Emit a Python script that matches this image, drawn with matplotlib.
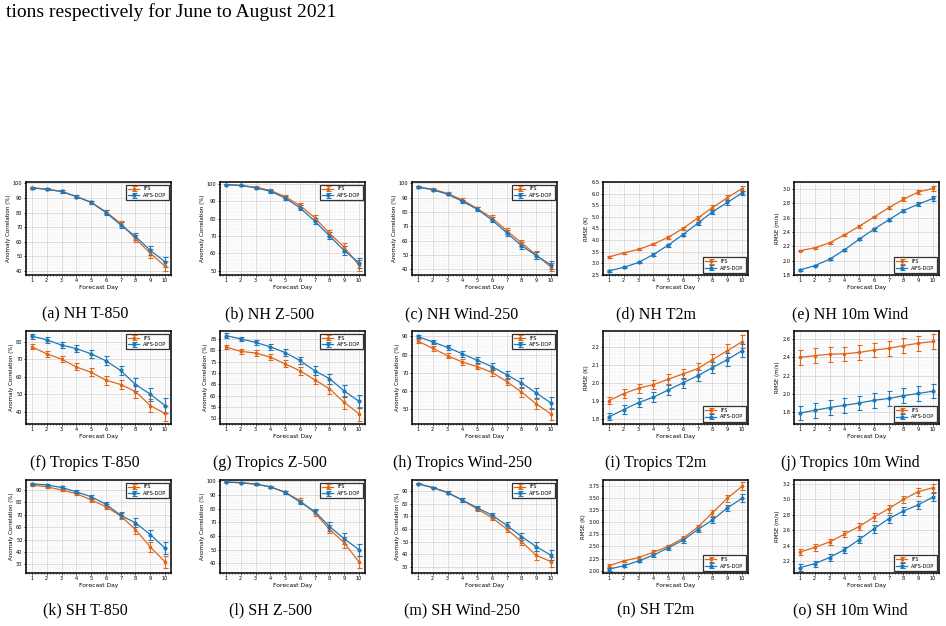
import numpy as np
import matplotlib
matplotlib.use("Agg")
import matplotlib.pyplot as plt
from matplotlib.ticker import AutoMinorLocator

# --- Data
days = [1, 2, 3, 4, 5, 6, 7, 8, 9, 10]

# NH
nh_t850_ifs = [97, 96, 94.5, 91, 87, 80.5, 72.5, 62, 52, 43]
nh_t850_aifs = [97, 96, 94.5, 91, 87, 80, 71.5, 63.5, 54, 46]
nh_t850_err = [0.5, 0.6, 0.8, 1.0, 1.0, 1.5, 2.0, 2.5, 3.0, 3.5]

nh_z500_ifs = [99.5, 99, 98, 96.2, 92.6, 87.5, 80.5, 71.5, 63.5, 53]
nh_z500_aifs = [99.5, 99, 97.7, 95.7, 91.8, 86.2, 78.5, 70, 61.5, 54.5]
nh_z500_err = [0.2, 0.3, 0.5, 0.8, 1.0, 1.3, 1.7, 2.0, 2.4, 3.0]

nh_w250_ifs = [97.5, 96, 93, 88.5, 82.5, 76, 67, 58.5, 50, 41.5]
nh_w250_aifs = [97.5, 95.5, 92.5, 87.5, 82, 74.5, 65.5, 56.5, 49.5, 43]
nh_w250_err = [0.4, 0.5, 0.8, 1.0, 1.3, 1.7, 2.0, 2.3, 2.5, 2.7]

nh_t2m_ifs = [3.28, 3.45, 3.6, 3.83, 4.12, 4.5, 4.95, 5.4, 5.82, 6.22]
nh_t2m_aifs = [2.68, 2.83, 3.04, 3.38, 3.78, 4.24, 4.72, 5.22, 5.62, 6.03]
nh_t2m_err = [0.03, 0.03, 0.04, 0.05, 0.06, 0.07, 0.08, 0.09, 0.1, 0.1]

nh_w10_ifs = [2.14, 2.18, 2.25, 2.36, 2.48, 2.61, 2.74, 2.86, 2.96, 3.01]
nh_w10_aifs = [1.87, 1.93, 2.02, 2.15, 2.30, 2.44, 2.57, 2.70, 2.79, 2.87]
nh_w10_err = [0.01, 0.01, 0.012, 0.015, 0.017, 0.02, 0.022, 0.025, 0.028, 0.03]

# Tropics
tr_t850_ifs = [77, 73, 70, 65.5, 62.5, 58, 55.5, 51.5, 43.5, 39]
tr_t850_aifs = [83, 81, 78, 76, 73, 69, 63.5, 55.5, 50, 43.5]
tr_t850_err = [1.5, 1.6, 1.8, 2.0, 2.2, 2.5, 2.7, 3.5, 3.8, 4.2]

tr_z500_ifs = [81.5, 79.5, 78.8, 77, 74, 71, 67, 63, 57, 52]
tr_z500_aifs = [86.5, 85, 83.5, 81.5, 79, 75.5, 71, 67.5, 62, 57.5]
tr_z500_err = [1.0, 1.0, 1.2, 1.3, 1.5, 1.7, 1.9, 2.2, 2.7, 3.0]

tr_w250_ifs = [87.5, 83.5, 79.5, 76, 73.5, 70.3, 65.3, 59.5, 53, 47.5]
tr_w250_aifs = [90, 87, 84, 80.5, 77, 73.5, 69, 64.5, 59, 53.5]
tr_w250_err = [1.0, 1.3, 1.4, 1.6, 1.6, 1.8, 2.1, 2.7, 2.8, 3.2]

tr_t2m_ifs = [1.90, 1.94, 1.97, 1.99, 2.02, 2.05, 2.08, 2.13, 2.18, 2.23]
tr_t2m_aifs = [1.81, 1.85, 1.89, 1.92, 1.96, 2.00, 2.04, 2.085, 2.13, 2.18]
tr_t2m_err = [0.02, 0.025, 0.025, 0.027, 0.028, 0.03, 0.03, 0.03, 0.035, 0.035]

tr_w10_ifs = [2.40, 2.42, 2.435, 2.44, 2.455, 2.48, 2.50, 2.53, 2.555, 2.575]
tr_w10_aifs = [1.79, 1.82, 1.85, 1.875, 1.90, 1.93, 1.95, 1.98, 2.005, 2.03]
tr_w10_err = [0.08, 0.08, 0.08, 0.08, 0.08, 0.08, 0.08, 0.08, 0.08, 0.08]

# SH
sh_t850_ifs = [94, 92.5, 90, 87, 82, 76.5, 69, 58, 44, 32]
sh_t850_aifs = [95, 94, 92, 88.5, 84.5, 78.5, 69.5, 63.5, 54, 43]
sh_t850_err = [0.8, 0.8, 1.0, 1.2, 1.5, 2.0, 2.5, 3.5, 4.0, 5.0]

sh_z500_ifs = [99.5, 99, 98, 96, 92, 86, 77, 65, 55, 41]
sh_z500_aifs = [99.5, 99, 98, 96, 92, 85, 78, 67, 58, 50]
sh_z500_err = [0.2, 0.3, 0.5, 0.8, 1.0, 1.5, 2.0, 3.0, 4.0, 4.5]

sh_w250_ifs = [96, 93, 89, 83, 76, 69, 60, 50, 39, 34]
sh_w250_aifs = [96, 93, 89, 83, 77, 71, 63, 54, 46, 39]
sh_w250_err = [0.5, 0.7, 1.0, 1.3, 1.6, 2.0, 2.5, 3.0, 3.5, 4.0]

sh_t2m_ifs = [2.1, 2.2, 2.27, 2.38, 2.5, 2.67, 2.9, 3.2, 3.5, 3.75]
sh_t2m_aifs = [2.03, 2.1, 2.2, 2.32, 2.47, 2.63, 2.85, 3.05, 3.3, 3.5]
sh_t2m_err = [0.03, 0.03, 0.03, 0.04, 0.04, 0.05, 0.05, 0.06, 0.07, 0.08]

sh_w10_ifs = [2.32, 2.38, 2.45, 2.55, 2.65, 2.77, 2.88, 3.0, 3.1, 3.15]
sh_w10_aifs = [2.12, 2.17, 2.25, 2.35, 2.48, 2.62, 2.75, 2.85, 2.93, 3.03]
sh_w10_err = [0.04, 0.04, 0.04, 0.04, 0.045, 0.05, 0.05, 0.05, 0.05, 0.05]

captions = [
    "(a) NH T-850", "(b) NH Z-500", "(c) NH Wind-250", "(d) NH T2m", "(e) NH 10m Wind",
    "(f) Tropics T-850", "(g) Tropics Z-500", "(h) Tropics Wind-250", "(i) Tropics T2m", "(j) Tropics 10m Wind",
    "(k) SH T-850", "(l) SH Z-500", "(m) SH Wind-250", "(n) SH T2m", "(o) SH 10m Wind",
]

ACC = "Anomaly Correlation (%)"
panels = [
    (nh_t850_ifs, nh_t850_aifs, nh_t850_err, ACC, (37, 101), np.arange(40, 101, 10), "upper right"),
    (nh_z500_ifs, nh_z500_aifs, nh_z500_err, ACC, (47.5, 101), np.arange(50, 101, 10), "upper right"),
    (nh_w250_ifs, nh_w250_aifs, nh_w250_err, ACC, (36, 101), np.arange(40, 101, 10), "upper right"),
    (nh_t2m_ifs, nh_t2m_aifs, nh_t2m_err, "RMSE (K)", (2.5, 6.5), np.arange(2.5, 6.51, 0.5), "lower right"),
    (nh_w10_ifs, nh_w10_aifs, nh_w10_err, "RMSE (m/s)", (1.8, 3.1), np.arange(1.8, 3.01, 0.2), "lower right"),
    (tr_t850_ifs, tr_t850_aifs, tr_t850_err, ACC, (33, 86), np.arange(40, 81, 10), "upper right"),
    (tr_z500_ifs, tr_z500_aifs, tr_z500_err, ACC, (47.5, 88.5), np.arange(50, 86, 5), "upper right"),
    (tr_w250_ifs, tr_w250_aifs, tr_w250_err, ACC, (42, 93), np.arange(50, 91, 10), "upper right"),
    (tr_t2m_ifs, tr_t2m_aifs, tr_t2m_err, "RMSE (K)", (1.77, 2.29), np.arange(1.8, 2.21, 0.1), "lower right"),
    (tr_w10_ifs, tr_w10_aifs, tr_w10_err, "RMSE (m/s)", (1.67, 2.69), np.arange(1.8, 2.61, 0.2), "lower right"),
    (sh_t850_ifs, sh_t850_aifs, sh_t850_err, ACC, (23, 98), np.arange(30, 91, 10), "upper right"),
    (sh_z500_ifs, sh_z500_aifs, sh_z500_err, ACC, (33, 101), np.arange(40, 101, 10), "upper right"),
    (sh_w250_ifs, sh_w250_aifs, sh_w250_err, ACC, (25, 99), np.arange(30, 91, 10), "upper right"),
    (sh_t2m_ifs, sh_t2m_aifs, sh_t2m_err, "RMSE (K)", (1.95, 3.88), np.arange(2.0, 3.76, 0.25), "lower right"),
    (sh_w10_ifs, sh_w10_aifs, sh_w10_err, "RMSE (m/s)", (2.05, 3.25), np.arange(2.2, 3.21, 0.2), "lower right"),
]

IFS_COLOR = "#e0661a"
AIFS_COLOR = "#1f78b8"

# --- Layout (pixel coordinates from the reference)
W, H = 946, 626
col_left = [26, 220, 412, 603, 794]
ax_w = 145
row_top = [182, 331, 480]
ax_h = 93
caption_x = [85, 270, 462, 656, 850]
caption_y = [314, 463, 610]

fig = plt.figure(figsize=(W / 100, H / 100), dpi=100)

fig.text(6 / W, 1 - 12 / H, "tions respectively for June to August 2021",
         fontsize=14, family="Liberation Serif", va="center", ha="left")

for i, (ifs, aifs, err, ylabel, ylim, yticks, loc) in enumerate(panels):
    r, c = divmod(i, 5)
    ax = fig.add_axes([col_left[c] / W, 1 - (row_top[r] + ax_h) / H, ax_w / W, ax_h / H])

    ax.errorbar(days, ifs, yerr=err, color=IFS_COLOR, marker="s", markersize=2,
                linewidth=0.9, elinewidth=0.8, capsize=1.8, capthick=0.8,
                ecolor=IFS_COLOR, label="IFS", zorder=3)
    ax.errorbar(days, aifs, yerr=err, color=AIFS_COLOR, marker="o", markersize=2,
                linewidth=0.9, elinewidth=0.8, capsize=1.8, capthick=0.8,
                ecolor=AIFS_COLOR, label="AIFS-DOP", zorder=3)

    ax.set_xlim(0.6, 10.4)
    ax.set_ylim(*ylim)
    ax.set_xticks(days)
    ax.set_yticks(yticks)
    if ylabel == "RMSE (K)" and r == 2:
        ax.set_yticklabels([f"{v:.2f}" for v in yticks])
    elif ylabel.startswith("RMSE"):
        ax.set_yticklabels([f"{v:.1f}" for v in yticks])
    ax.xaxis.set_minor_locator(AutoMinorLocator(5))
    ax.yaxis.set_minor_locator(AutoMinorLocator(5))
    ax.tick_params(which="major", labelsize=3.6, length=1.5, width=0.5, pad=1)
    ax.tick_params(which="minor", length=1.0, width=0.4)
    ax.grid(True, which="major", color="#d0d0d0", linewidth=0.5)
    ax.grid(True, which="minor", color="#ececec", linewidth=0.3)
    ax.set_axisbelow(True)
    for s in ax.spines.values():
        s.set_linewidth(1.1)
    ax.set_xlabel("Forecast Day", fontsize=4.3, labelpad=1)
    ax.set_ylabel(ylabel, fontsize=4.0, labelpad=1.5)

    leg = ax.legend(loc=loc, fontsize=3.6, frameon=True, fancybox=False,
                    borderpad=0.4, handlelength=2.2, labelspacing=0.3)
    leg.get_frame().set_edgecolor("black")
    leg.get_frame().set_linewidth(0.9)

    fig.text(caption_x[c] / W, 1 - caption_y[r] / H, captions[i],
             fontsize=11.5, family="Liberation Serif", ha="center", va="center")

fig.savefig("out.png", dpi=100)
